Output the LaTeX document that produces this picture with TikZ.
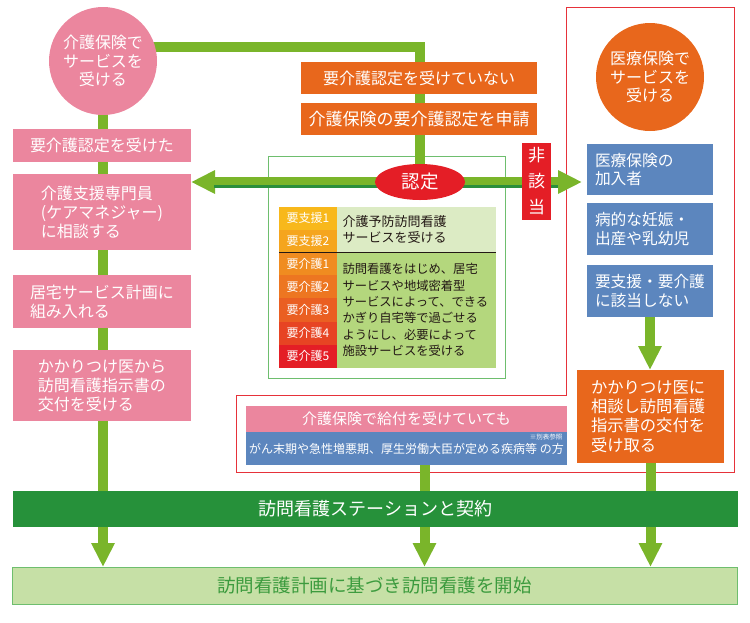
\documentclass[tikz,border=0pt]{standalone}
\usepackage{fontspec}
\setmainfont{Noto Sans CJK JP}
\usepackage{xcolor}
\usepackage{tikz}
\usetikzlibrary{calc,arrows.meta,backgrounds,shapes.geometric}

\definecolor{kpink}{HTML}{EB869E}
\definecolor{klime}{HTML}{7AB52A}
\definecolor{kdark}{HTML}{2A8F3C}
\definecolor{korange}{HTML}{E8671C}
\definecolor{kred}{HTML}{E41E26}
\definecolor{kblue}{HTML}{5C86BE}
\definecolor{kbar}{HTML}{26913A}
\definecolor{kpale}{HTML}{C6E0A6}
\definecolor{kframe}{HTML}{6EBE6E}
\definecolor{kgtext}{HTML}{3C9B3E}
\definecolor{kredline}{HTML}{E6323A}
\definecolor{ktop}{HTML}{DCEBC4}
\definecolor{kbot}{HTML}{B4D77D}
\definecolor{kink}{HTML}{231815}
\definecolor{ks1}{HTML}{F8B81B}
\definecolor{ks2}{HTML}{F5A51E}
\definecolor{kc1}{HTML}{F08C20}
\definecolor{kc2}{HTML}{ED7621}
\definecolor{kc3}{HTML}{EA5F22}
\definecolor{kc4}{HTML}{E74423}
\definecolor{kc5}{HTML}{E41E26}

\begin{document}
\begin{tikzpicture}[
    x=1pt, y=-1pt,
    every node/.style={inner sep=0pt, outer sep=0pt, text=white},
    box/.style={rectangle, align=left, font=\fontsize{16}{19}\selectfont},
    pinkbox/.style={box, fill=kpink, minimum width=178pt},
    bluebox/.style={box, fill=kblue, minimum width=126pt, text width=110pt, font=\fontsize{15.7}{18.5}\selectfont},
    orangebox/.style={box, fill=korange, minimum width=236pt, minimum height=32pt},
    circ/.style={circle, minimum size=108pt, align=center, font=\fontsize{16}{18.5}\selectfont},
    grade/.style={rectangle, minimum width=58pt, font=\fontsize{12}{14}\selectfont},
    desc/.style={rectangle, align=left, minimum width=159pt, text width=148pt, text=kink},
    bar/.style={rectangle, minimum width=725pt, font=\fontsize{18}{20}\selectfont},
    arrow/.style={draw=klime, line width=10pt, -{Triangle[length=24pt,width=22pt]}},
    link/.style={draw=klime, line width=10pt},
]
\useasboundingbox (0,0) rectangle (750,622);

\node[circ, fill=kpink] (kaigo) at (103,61) {介護保険で\\サービスを\\受ける};
\node[pinkbox, minimum height=33pt] (k1) at (102,145.5) {要介護認定を受けた};
\node[pinkbox, minimum height=76pt] (k2) at (102,212) {介護支援専門員\\(ケアマネジャー)\\に相談する};
\node[pinkbox, minimum height=53pt] (k3) at (102,301.5) {居宅サービス計画に\\組み入れる};
\node[pinkbox, minimum height=71pt] (k4) at (102,385.5) {かかりつけ医から\\訪問看護指示書の\\交付を受ける};

\node[orangebox] (mi) at (419,78) {要介護認定を受けていない};
\node[orangebox, font=\fontsize{17}{19}\selectfont] (shinsei) at (419,119) {介護保険の要介護認定を申請};
\node[ellipse, fill=kred, minimum width=90pt, minimum height=36pt, font=\fontsize{18.5}{20}\selectfont] (nintei) at (420,182) {認定};
\node[rectangle, fill=kred, minimum width=29pt, minimum height=77pt, align=center, font=\fontsize{17}{26}\selectfont] (hi) at (536.5,181.5) {非\\該\\当};

\node[grade, fill=ks1, minimum height=22.5pt] (s1) at (308,218.25) {要支援1};
\node[grade, fill=ks2, minimum height=22.5pt] (s2) at (308,240.75) {要支援2};
\node[grade, fill=kc1, minimum height=23.2pt] (c1) at (308,263.6) {要介護1};
\node[grade, fill=kc2, minimum height=23.2pt] (c2) at (308,286.8) {要介護2};
\node[grade, fill=kc3, minimum height=23.2pt] (c3) at (308,310) {要介護3};
\node[grade, fill=kc4, minimum height=23.2pt] (c4) at (308,333.2) {要介護4};
\node[grade, fill=kc5, minimum height=23.2pt] (c5) at (308,356.4) {要介護5};
\node[desc, fill=ktop, minimum height=45pt, font=\fontsize{13}{16}\selectfont] (yobo) at (416.5,229.5) {介護予防訪問看護\\サービスを受ける};
\node[desc, fill=kbot, minimum height=116pt, font=\fontsize{12.3}{16.4}\selectfont] (houmon) at (416.5,310) {訪問看護をはじめ、居宅\\サービスや地域密着型\\サービスによって、できる\\かぎり自宅等で過ごせる\\ようにし、必要によって\\施設サービスを受ける};
\draw[kink, line width=1pt] (s2.south west) -- (yobo.south east);

\node[circ, fill=korange] (iryo) at (650,77) {医療保険で\\サービスを\\受ける};
\node[bluebox, minimum height=51pt] (b1) at (650,169.5) {医療保険の\\加入者};
\node[bluebox, minimum height=52pt] (b2) at (650,229) {病的な妊娠・\\出産や乳幼児};
\node[bluebox, minimum height=52pt] (b3) at (650,291) {要支援・要介護\\に該当しない};
\node[box, fill=korange, minimum width=147pt, minimum height=93pt, text width=119pt, font=\fontsize{16.3}{19.3}\selectfont] (ref) at (650.5,416.5) {かかりつけ医に\\相談し訪問看護\\指示書の交付を\\受け取る};

\node[box, fill=kpink, minimum width=321pt, minimum height=26pt, font=\fontsize{15}{17}\selectfont] (kyufuA) at (406.5,419) {介護保険で給付を受けていても};
\node[box, fill=kblue, minimum width=321pt, minimum height=33pt, font=\fontsize{12}{14}\selectfont] (kyufuB) at (406.5,448.5) {\raisebox{-2.5pt}{がん末期や急性増悪期、厚生労働大臣が定める疾病等 の方}};
\node[font=\fontsize{6.5}{7}\selectfont] (bekki) at (546,437) {※別表参照};

\node[bar, fill=kbar, minimum height=36pt] (keiyaku) at (375.5,509) {訪問看護ステーションと契約};
\node[bar, fill=kpale, draw=kframe, line width=1pt, minimum height=37pt, text=kgtext, font=\fontsize{18.5}{20}\selectfont] (kaishi) at (374.5,585.5) {訪問看護計画に基づき訪問看護を開始};

\begin{scope}[on background layer]
\draw[kredline, line width=1pt] (566,7) -- (734,7) -- (734,472) -- (236,472) -- (236,395) -- (566,395) -- cycle;
\draw[kframe, line width=0.8pt] (268,156) rectangle (505,378);
\draw[link] ([yshift=14pt]kaigo.center) -| (nintei.center);
\draw[arrow] (kaigo.center) -- (kaigo.center |- kaishi.north);
\draw[arrow] (nintei.center) -- (nintei.center -| k2.east);
\draw[arrow] (nintei.center) -- ($(nintei.center -| b1.west)+(-5,0)$);
\draw[kdark, line width=3pt] ($(nintei.center -| k2.east)+(23,4.5)$) -- ($(nintei.center -| b1.west)+(-29,4.5)$);
\draw[arrow] (b3.south) -- (b3.south |- ref.north);
\draw[arrow] (ref.south) -- (ref.south |- kaishi.north);
\draw[arrow] ([xshift=18pt]kyufuB.south) -- ([xshift=18pt]kyufuB.south |- kaishi.north);
\end{scope}
\end{tikzpicture}
\end{document}
